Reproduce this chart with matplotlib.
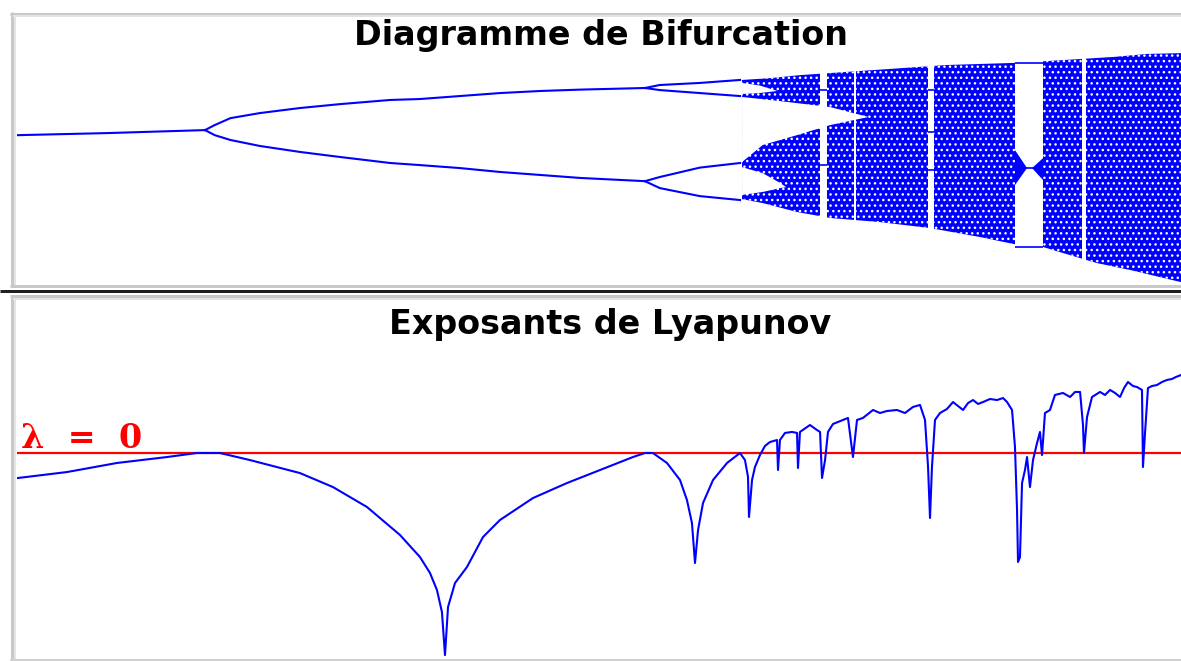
import numpy as np
import matplotlib

matplotlib.use("Agg")
import matplotlib.pyplot as plt
from matplotlib.lines import Line2D

W, H = 1181, 661
BLUE = "#0000ff"
RED = "#ff0000"

# ---- Bifurcation diagram, values: r -> x_n ----
p1_r = [2.809, 2.900, 3.000]
p1_x = [0.643, 0.652, 0.665]

p2_r = [3.000, 3.010, 3.026, 3.056, 3.097, 3.138, 3.189, 3.219, 3.260, 3.301, 3.342, 3.383, 3.449]
p2_up = [0.665, 0.687, 0.717, 0.739, 0.761, 0.778, 0.796, 0.800, 0.813, 0.826, 0.835, 0.841, 0.848]
p2_lo = [0.665, 0.643, 0.622, 0.596, 0.570, 0.548, 0.522, 0.513, 0.500, 0.483, 0.470, 0.457, 0.443]

p4_r = [3.449, 3.464, 3.505, 3.546]
p4_branches = [
    [0.848, 0.861, 0.870, 0.883],
    [0.848, 0.839, 0.826, 0.813],
    [0.443, 0.461, 0.502, 0.522],
    [0.443, 0.413, 0.378, 0.361],
]

# envelope of the chaotic region
env_top_r = [3.548, 3.577, 3.607, 3.682, 3.757, 3.825, 3.859, 3.927, 3.961, 4.000]
env_top_x = [0.883, 0.891, 0.904, 0.926, 0.948, 0.957, 0.965, 0.983, 0.996, 1.000]
env_bot_r = [3.548, 3.569, 3.604, 3.638, 3.689, 3.740, 3.791, 3.825, 3.855, 3.876, 3.910, 3.944, 4.000]
env_bot_x = [0.365, 0.348, 0.309, 0.283, 0.265, 0.239, 0.200, 0.170, 0.157, 0.130, 0.087, 0.057, 0.000]

# empty gap between the two bands (closes where the bands merge)
gap_top_r = [3.548, 3.587, 3.638, 3.677]
gap_top_x = [0.809, 0.791, 0.765, 0.722]
gap_bot_r = [3.548, 3.569, 3.604, 3.638, 3.677]
gap_bot_x = [0.526, 0.600, 0.643, 0.687, 0.722]

# smaller gaps of the four-band stage
sub_gap_up_r = [3.548, 3.566, 3.584, 3.566, 3.548]
sub_gap_up_x = [0.870, 0.859, 0.835, 0.826, 0.822]
sub_gap_lo_r = [3.548, 3.569, 3.587, 3.593, 3.587, 3.569, 3.548]
sub_gap_lo_x = [0.504, 0.478, 0.435, 0.417, 0.413, 0.396, 0.383]

# periodic windows and the orbit values visible inside them
windows_r = [(3.6276, 3.6347), (3.6622, 3.6643), (3.7378, 3.7439), (3.8265, 3.8551), (3.8949, 3.8990)]
window_orbits = [
    [0.839, 0.513],
    [],
    [0.839, 0.657, 0.491],
    [0.957, 0.500, 0.157],
    [],
]
# period-3 window: band edges pinching in, and first splitting at the end
p3_pinch_r = [3.8265, 3.8388, 3.8265]
p3_pinch_x = [0.578, 0.500, 0.426]
p3_split_r = [3.8439, 3.8551, 3.8551]
p3_split_x = [0.500, 0.543, 0.448]

# ---- Lyapunov exponent ----
lyap_r = [
    2.8092, 2.8592, 2.9102, 2.9612, 2.9918, 3.0153, 3.0459, 3.0969, 3.1306, 3.1653,
    3.1990, 3.2194, 3.2296, 3.2367, 3.2418, 3.2449, 3.2480, 3.2551, 3.2673, 3.2837,
    3.3010, 3.3347, 3.3694, 3.4031, 3.4367, 3.4490, 3.4571, 3.4714, 3.4847, 3.4918,
    3.4969, 3.5000, 3.5031, 3.5082, 3.5184, 3.5327, 3.5459, 3.5510, 3.5541, 3.5551,
    3.5582, 3.5612, 3.5663, 3.5714, 3.5765, 3.5837, 3.5847, 3.5867, 3.5918, 3.5990,
    3.6041, 3.6051, 3.6071, 3.6173, 3.6245, 3.6276, 3.6296, 3.6327, 3.6357, 3.6408,
    3.6510, 3.6561, 3.6612, 3.6653, 3.6714, 3.6816, 3.6888, 3.6959, 3.7061, 3.7143,
    3.7224, 3.7296, 3.7347, 3.7378, 3.7398, 3.7418, 3.7449, 3.7500, 3.7571, 3.7633,
    3.7684, 3.7735, 3.7786, 3.7837, 3.7888, 3.7939, 3.8010, 3.8082, 3.8143, 3.8184,
    3.8235, 3.8265, 3.8286, 3.8296, 3.8316, 3.8337, 3.8367, 3.8388, 3.8418, 3.8449,
    3.8490, 3.8520, 3.8541, 3.8571, 3.8622, 3.8673, 3.8755, 3.8827, 3.8878, 3.8929,
    3.8959, 3.8969, 3.9000, 3.9051, 3.9133, 3.9184, 3.9235, 3.9286, 3.9337, 3.9378,
    3.9418, 3.9469, 3.9510, 3.9561, 3.9571, 3.9592, 3.9622, 3.9663, 3.9714, 3.9765,
    3.9816, 3.9867, 3.9908, 3.9959,
]
lyap_l = [
    -0.223, -0.170, -0.089, -0.036, 0.000, 0.000, -0.063, -0.179, -0.304, -0.482,
    -0.732, -0.929, -1.071, -1.223, -1.420, -1.804, -1.375, -1.161, -1.018, -0.750,
    -0.598, -0.402, -0.268, -0.152, -0.036, 0.000, 0.000, -0.089, -0.241, -0.420,
    -0.625, -0.982, -0.688, -0.446, -0.241, -0.089, 0.000, -0.063, -0.214, -0.571,
    -0.241, -0.125, -0.018, 0.063, 0.098, 0.116, -0.152, 0.116, 0.179, 0.188,
    0.179, -0.134, 0.188, 0.250, 0.205, 0.188, -0.223, -0.063, 0.188, 0.259,
    0.295, 0.313, -0.036, 0.295, 0.313, 0.384, 0.357, 0.375, 0.384, 0.357,
    0.411, 0.429, 0.295, -0.125, -0.580, -0.125, 0.295, 0.357, 0.393, 0.455,
    0.420, 0.384, 0.446, 0.473, 0.438, 0.455, 0.482, 0.473, 0.491, 0.455,
    0.384, 0.054, -0.509, -0.973, -0.929, -0.268, -0.152, -0.036, -0.304, -0.063,
    0.089, 0.188, -0.018, 0.357, 0.384, 0.518, 0.536, 0.500, 0.545, 0.545,
    0.250, 0.000, 0.321, 0.500, 0.545, 0.518, 0.563, 0.536, 0.500, 0.580,
    0.634, 0.598, 0.589, 0.563, -0.125, 0.179, 0.580, 0.598, 0.607, 0.634,
    0.652, 0.661, 0.679, 0.696,
]


def fx(px):
    return px / W


def fy(py):
    return 1 - py / H


plt.rcParams["hatch.color"] = "white"
plt.rcParams["hatch.linewidth"] = 1.0

fig = plt.figure(figsize=(W / 100, H / 100), dpi=100)
fig.patch.set_facecolor("white")

ax1 = fig.add_axes([fx(17), fy(284), fx(1181) - fx(17), fy(16) - fy(284)])
ax2 = fig.add_axes([fx(17), fy(658), fx(1181) - fx(17), fy(301) - fy(658)])
for ax in (ax1, ax2):
    ax.set_axis_off()
    ax.set_xlim(2.8082, 3.9959)
ax1.set_ylim(-0.004, 1.161)
ax2.set_ylim(-1.83, 1.357)

# --- top: bifurcation ---
lw = 1.5
ax1.plot(p1_r, p1_x, color=BLUE, lw=lw, zorder=3)
ax1.plot(p2_r, p2_up, color=BLUE, lw=lw, zorder=3)
ax1.plot(p2_r, p2_lo, color=BLUE, lw=lw, zorder=3)
for br in p4_branches:
    ax1.plot(p4_r, br, color=BLUE, lw=lw, zorder=3)

ax1.fill(np.r_[env_top_r, env_bot_r[::-1]], np.r_[env_top_x, env_bot_x[::-1]],
         facecolor=BLUE, edgecolor="white", hatch="...", linewidth=0, zorder=1)
ax1.fill(np.r_[gap_top_r, gap_bot_r[::-1]], np.r_[gap_top_x, gap_bot_x[::-1]],
         color="white", linewidth=0, zorder=2)
ax1.fill(sub_gap_up_r, sub_gap_up_x, color="white", linewidth=0, zorder=2)
ax1.fill(sub_gap_lo_r, sub_gap_lo_x, color="white", linewidth=0, zorder=2)

for (r0, r1), orbit in zip(windows_r, window_orbits):
    ax1.axvspan(r0, r1, color="white", linewidth=0, zorder=2)
    for v in orbit:
        ax1.plot([r0, r1], [v, v], color=BLUE, lw=1.2, zorder=3, solid_capstyle="butt")
ax1.fill(p3_pinch_r, p3_pinch_x, color=BLUE, linewidth=0, zorder=3)
ax1.fill(p3_split_r, p3_split_x, color=BLUE, linewidth=0, zorder=3)

# --- bottom: Lyapunov exponent ---
ax2.axhline(0, color=RED, lw=1.6, zorder=2)
ax2.plot(lyap_r, lyap_l, color=BLUE, lw=lw, zorder=3)
ax2.text(2.812, 0.045, "λ  =  0", color=RED, fontsize=24, fontweight="bold",
         family="DejaVu Serif", ha="left", va="baseline")

# --- titles ---
fig.text(fx(601), fy(35), "Diagramme de Bifurcation", ha="center", va="center",
         fontsize=24, fontweight="bold", color="black")
fig.text(fx(610), fy(325), "Exposants de Lyapunov", ha="center", va="center",
         fontsize=24, fontweight="bold", color="black")


# --- sunken panel frames ---
def hline(y, x0, x1, color, width):
    fig.add_artist(Line2D([fx(x0), fx(x1)], [fy(y), fy(y)], color=color,
                          lw=width * 0.72, solid_capstyle="butt"))


def vline(x, y0, y1, color, width):
    fig.add_artist(Line2D([fx(x), fx(x)], [fy(y0), fy(y1)], color=color,
                          lw=width * 0.72, solid_capstyle="butt"))


for top, bot in ((12, 287), (295, 661)):
    hline(top + 1.5, 10, W, "#c8c8c8", 3)
    vline(11.5, top, bot, "#c8c8c8", 3)
    vline(15, top + 3, bot, "#e4e4e4", 2)
    hline(top + 4, 13, W, "#e4e4e4", 2)
    hline(bot - 1.5, 10, W, "#c8c8c8", 3)
hline(291, 0, W, "#202020", 3)
hline(659.5, 10, W, "#d0d0d0", 3)

fig.savefig("out.png", dpi=100, facecolor="white")
